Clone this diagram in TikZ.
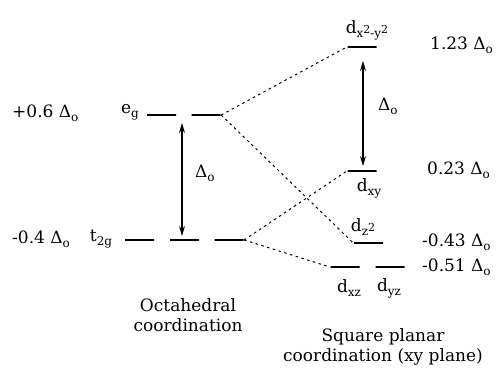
\documentclass[tikz,border=0pt]{standalone}
\usepackage{fontspec}
\setmainfont{DejaVu Serif}
\usetikzlibrary{arrows.meta, positioning, calc}
\newcommand{\lowr}[1]{\raisebox{-0.45ex}{\fontsize{12}{12}\selectfont #1}}
\newcommand{\upr}[1]{\raisebox{0.6ex}{\fontsize{11}{11}\selectfont #1}}
\newcommand{\Dox}{Δ\lowr{o}}

\begin{document}
\begin{tikzpicture}[x=1pt, y=-1pt, font=\fontsize{17}{20}\selectfont, >={Stealth[length=10pt, width=6pt]},
    lvl/.style={draw, line width=1.3pt, minimum width=29pt, minimum height=0pt, inner sep=0pt},
    corr/.style={dash pattern=on 2.5pt off 3.5pt, line width=1pt},
    gap/.style={<->, line width=1.2pt},
    lbl/.style={inner sep=0pt},
  ]
    \useasboundingbox (0,0) rectangle (501,370);

    % octahedral levels
    \node[lvl] (eg1)  at (161.5,115) {};
    \node[lvl] (eg2)  at (206,115) {};
    \node[lvl] (t2g1) at (139.5,240) {};
    \node[lvl] (t2g2) at (184.5,240) {};
    \node[lvl] (t2g3) at (229,240) {};

    % square planar levels
    \node[lvl] (dx2y2) at (362,47) {};
    \node[lvl] (dxy)   at (362,171) {};
    \node[lvl] (dz2)   at (368.5,243) {};
    \node[lvl] (dxz)   at (345,267) {};
    \node[lvl] (dyz)   at (390,267) {};

    % correlation lines
    \draw[corr] (eg2.east) -- (dx2y2.west);
    \draw[corr] (eg2.east) -- (dz2.west);
    \draw[corr] (t2g3.east) -- (dxy.west);
    \draw[corr] (t2g3.east) -- (dxz.west);

    % splitting arrows
    \coordinate (oTop) at (182,123);
    \coordinate (oBot) at (182,236);
    \draw[gap] (oTop) -- (oBot);
    \node[lbl, anchor=west] (dOct) at (195,173) {\Dox};
    \coordinate (sTop) at (363,61);
    \coordinate (sBot) at (363,166);
    \draw[gap] (sTop) -- (sBot);
    \node[lbl, anchor=west] (dSq) at (378,106) {\Dox};

    % energies and labels
    \node[lbl, anchor=west] (eEg)  at (12,113) {+0.6 \Dox};
    \node[lbl, anchor=west] (eT2g) at (12,239) {-0.4 \Dox};
    \node[lbl] (lEg)  at (130,112) {e\lowr{g}};
    \node[lbl] (lT2g) at (101,239) {t\lowr{2g}};

    \node[lbl] (lx2y2) at (367,30) {d\lowr{x\upr{2}-y\upr{2}}};
    \node[lbl] (lxy)   at (369,188) {d\lowr{xy}};
    \node[lbl] (lz2)   at (363,227) {d\lowr{z\upr{2}}};
    \node[lbl] (lxz)   at (349,288) {d\lowr{xz}};
    \node[lbl] (lyz)   at (389,288) {d\lowr{yz}};

    \node[lbl, anchor=west] (e1) at (430,45)  {1.23 \Dox};
    \node[lbl, anchor=west] (e2) at (427,170) {0.23 \Dox};
    \node[lbl, anchor=west] (e3) at (422,242) {-0.43 \Dox};
    \node[lbl, anchor=west] (e4) at (422,267) {-0.51 \Dox};

    \node[lbl, align=center] (tOct) at (188,315) {Octahedral\\coordination};
    \node[lbl, align=center] (tSq)  at (383,347) {Square planar\\coordination (xy plane)};
  \end{tikzpicture}
\end{document}
